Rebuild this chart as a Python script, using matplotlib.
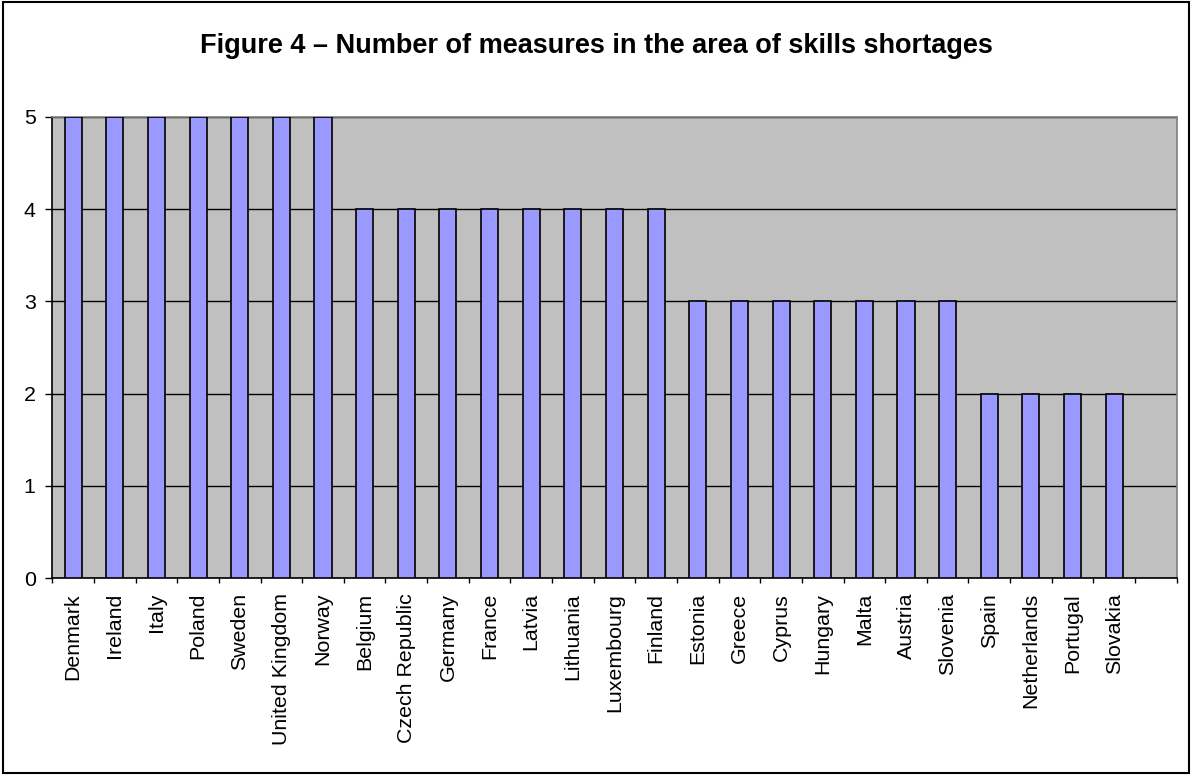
import matplotlib
matplotlib.use("Agg")
import matplotlib.pyplot as plt
from matplotlib.patches import Rectangle
import numpy as np

countries = ["Denmark", "Ireland", "Italy", "Poland", "Sweden", "United Kingdom", "Norway",
             "Belgium", "Czech Republic", "Germany", "France", "Latvia", "Lithuania",
             "Luxembourg", "Finland", "Estonia", "Greece", "Cyprus", "Hungary", "Malta",
             "Austria", "Slovenia", "Spain", "Netherlands", "Portugal", "Slovakia"]
measures = [5, 5, 5, 5, 5, 5, 5,
            4, 4, 4, 4, 4, 4, 4, 4,
            3, 3, 3, 3, 3, 3, 3,
            2, 2, 2, 2]
n_slots = 27
title = "Figure 4 \u2013 Number of measures in the area of skills shortages"

plt.rcParams['font.family'] = ['Liberation Sans', 'DejaVu Sans']

fig = plt.figure(figsize=(11.92, 7.75), dpi=100)
W, H = 1192, 775
ax = fig.add_axes([52.3 / W, 1 - 578.3 / H, (1176.7 - 52.3) / W, (578.3 - 116.7) / H])
ax.set_facecolor('#C0C0C0')

x = np.arange(len(countries))
ax.bar(x, measures, width=0.41, color='#9999FF', edgecolor='black', linewidth=1.2, zorder=3)

ax.set_xlim(-0.5, n_slots - 0.5)
ax.set_ylim(0, 5)
ax.set_yticks(range(0, 6))
ax.yaxis.grid(True, color='black', linewidth=1.0, zorder=1)
ax.set_axisbelow(True)

ax.set_xticks(np.arange(-0.5, n_slots, 1.0))
ax.set_xticklabels([])
ax.set_xticks(x, minor=True)
ax.set_xticklabels(countries, minor=True, rotation=90, fontsize=15.4)
ax.tick_params(axis='x', which='major', length=3.6, width=1, direction='out', color='black')
ax.tick_params(axis='x', which='minor', length=0, pad=10.5)
ax.tick_params(axis='y', length=5, width=1, direction='out', pad=7, labelsize=15.4)

for s in ['left', 'bottom']:
    ax.spines[s].set_color('black')
    ax.spines[s].set_linewidth(1.2)
for s in ['top', 'right']:
    ax.spines[s].set_color('#808080')
    ax.spines[s].set_linewidth(1.2)

fig.text(0.5, 1 - 46 / H, title, ha='center', va='center', fontsize=19.5, fontweight='bold')

fig.patches.append(Rectangle((3 / W, 2 / H), (1189 - 3) / W, (773 - 2) / H,
                             transform=fig.transFigure, fill=False, edgecolor='black', linewidth=1.5))

fig.savefig('out.png', dpi=100)
